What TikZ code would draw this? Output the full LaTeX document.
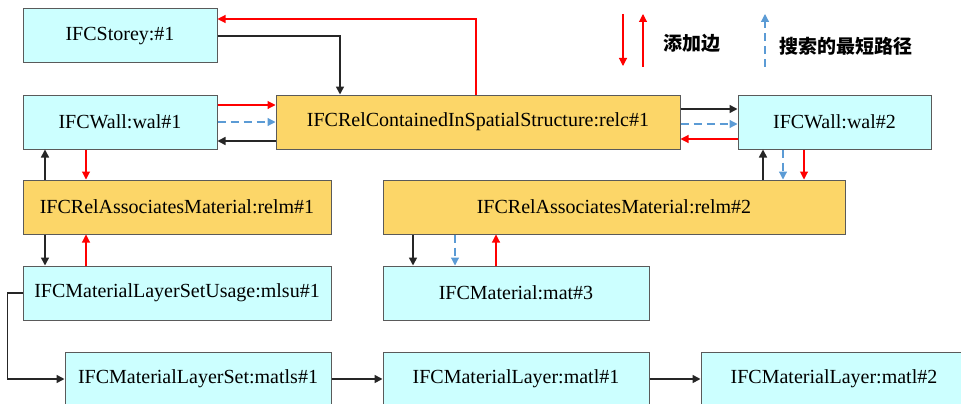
\documentclass[tikz,border=0pt]{standalone}
\usepackage{fontspec}
\setmainfont{Liberation Serif}
\newfontfamily\cjk{Noto Sans CJK SC}
\usepackage{tikz}
\usetikzlibrary{arrows, arrows.meta, calc, positioning}
\definecolor{boxcyan}{RGB}{204,255,255}
\definecolor{boxgold}{RGB}{252,214,104}
\definecolor{pathblue}{RGB}{91,155,213}
\definecolor{boxline}{RGB}{90,90,90}
\tikzset{entity/.style={draw=boxline, line width=1pt, fill=boxcyan, inner sep=0pt,
    minimum height=54pt, font=\rmfamily\fontsize{20}{24}\selectfont},
  relation/.style={entity, fill=boxgold},
  linkedge/.style={->, line width=1.6pt, black!85},
  addedge/.style={->, line width=1.1pt, red},
  pathedge/.style={->, line width=1.2pt, pathblue, dash pattern=on 8pt off 5pt},
  legendtext/.style={font=\cjk\bfseries\fontsize{19}{22}\selectfont, inner sep=0pt}
}

\begin{document}
\begin{tikzpicture}[x=1pt, y=-1pt, >={Triangle[length=8pt,width=8pt]}]
        \useasboundingbox (0,0) rectangle (961,404);
        % boxes
        \node[entity, minimum width=194pt] (storey) at (120,36) {IFCStorey:\#1};
        \node[entity, minimum width=194pt] (wal1) at (120,122) {IFCWall:wal\#1};
        \node[relation, minimum width=404pt] (relc) at (478,122) {IFCRelContainedInSpatialStructure:relc\#1};
        \node[entity, minimum width=193pt] (wal2) at (834.5,122) {IFCWall:wal\#2};
        \node[relation, minimum width=308pt] (relm1) at (177,207) {IFCRelAssociatesMaterial:relm\#1};
        \node[relation, minimum width=462pt] (relm2) at (614,207) {IFCRelAssociatesMaterial:relm\#2};
        \node[entity, minimum width=308pt] (mlsu) at (177,293) {IFCMaterialLayerSetUsage:mlsu\#1};
        \node[entity, minimum width=266pt] (mat3) at (516,293) {IFCMaterial:mat\#3};
        \node[entity, minimum width=266pt] (matls) at (198,379) {IFCMaterialLayerSet:matls\#1};
        \node[entity, minimum width=266pt] (matl1) at (516,379) {IFCMaterialLayer:matl\#1};
        \node[entity, minimum width=266pt] (matl2) at (834,379) {IFCMaterialLayer:matl\#2};

        % legend
        \coordinate (adddown) at (623,14);
        \coordinate (addup) at (643,67);
        \coordinate (pathup) at (765,67);
        \draw[addedge] (adddown) -- ++(0,52);
        \draw[addedge] (addup) -- ++(0,-53);
        \draw[pathedge] (pathup) -- ++(0,-53);
        \node[legendtext] (addtext) at (692,43) {添加边};
        \node[legendtext] (pathtext) at (846,46) {搜索的最短路径};

        % storey and relc
        \draw[linkedge] (storey.east) -| (relc.north -| 340,0);
        \draw[addedge] (relc.north -| 476,0) |- (storey.east |- 0,19);

        % wal#1 and relc
        \draw[addedge] (wal1.east |- 0,105) -- (relc.west |- 0,105);
        \draw[pathedge] (wal1.east) -- (relc.west);
        \draw[linkedge] (relc.west |- 0,141) -- (wal1.east |- 0,141);

        % relc and wal#2
        \draw[linkedge] (relc.east |- 0,109) -- (wal2.west |- 0,109);
        \draw[pathedge] (relc.east |- 0,124) -- (wal2.west |- 0,124);
        \draw[addedge] (wal2.west |- 0,139) -- (relc.east |- 0,139);

        % left column
        \draw[linkedge] (relm1.north -| 45,0) -- (wal1.south -| 45,0);
        \draw[addedge] (wal1.south -| 86,0) -- (relm1.north -| 86,0);
        \draw[linkedge] (relm1.south -| 45,0) -- (mlsu.north -| 45,0);
        \draw[addedge] (mlsu.north -| 86,0) -- (relm1.south -| 86,0);

        % right column
        \draw[linkedge] (relm2.north -| 763,0) -- (wal2.south -| 763,0);
        \draw[pathedge] (wal2.south -| 783,0) -- (relm2.north -| 783,0);
        \draw[addedge] (wal2.south -| 804,0) -- (relm2.north -| 804,0);
        \draw[linkedge] (relm2.south -| 413,0) -- (mat3.north -| 413,0);
        \draw[pathedge] (relm2.south -| 455,0) -- (mat3.north -| 455,0);
        \draw[addedge] (mat3.north -| 496,0) -- (relm2.south -| 496,0);

        % layers
        \draw[linkedge] (mlsu.west) -- ++(-15,0) |- (matls.west);
        \draw[linkedge] (matls.east) -- (matl1.west);
        \draw[linkedge] (matl1.east) -- (matl2.west);
\end{tikzpicture}
\end{document}
